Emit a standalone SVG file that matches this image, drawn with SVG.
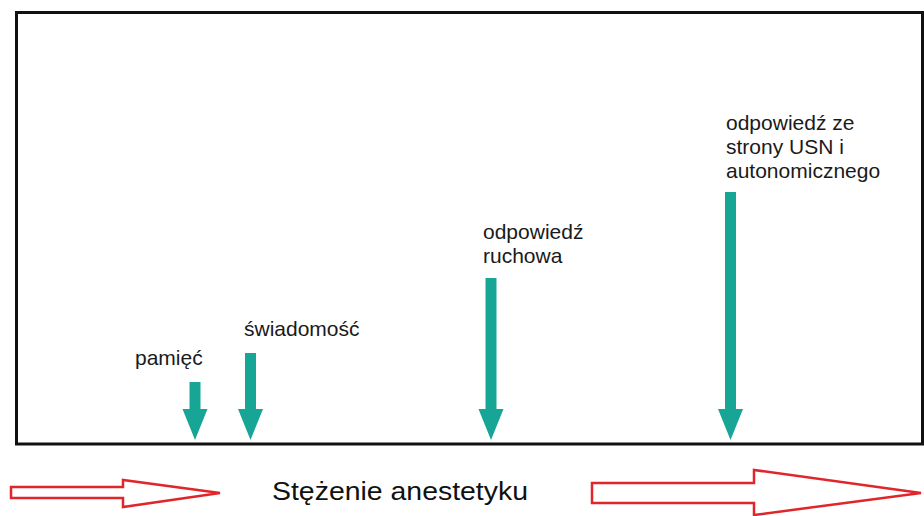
<svg xmlns="http://www.w3.org/2000/svg" width="924" height="516" viewBox="0 0 924 516">
<style>
.lbl{font-family:"Liberation Sans",Arial,sans-serif;font-size:21px;fill:#1a1a1a}
.title{font-family:"Liberation Sans",Arial,sans-serif;font-size:26px;fill:#111}
.teal{fill:#17a596}
.red{fill:#fff;stroke:#e0262b;stroke-width:2.5;stroke-linejoin:miter}
</style>
<rect x="0" y="0" width="924" height="516" fill="#fff"/>
<g id="frame"><rect x="16.5" y="12.5" width="906" height="431.5" fill="#fff" stroke="#111" stroke-width="3"/></g>
<g id="pamiec"><text class="lbl" x="135" y="365">pamięć</text></g>
<g id="swiadomosc"><text class="lbl" x="244" y="336">świadomość</text></g>
<g id="ruchowa"><text class="lbl" x="483" y="239">odpowiedź</text><text class="lbl" x="483" y="263">ruchowa</text></g>
<g id="usn"><text class="lbl" x="726" y="130">odpowiedź ze</text><text class="lbl" x="726" y="154">strony USN i</text><text class="lbl" x="726" y="178">autonomicznego</text></g>
<g id="connectors">
<polygon class="teal" points="189.5,382 200.5,382 200.5,409 207.5,409 195,440 182.5,409 189.5,409"/>
<polygon class="teal" points="245,353 256,353 256,409 263,409 250.5,440 238,409 245,409"/>
<polygon class="teal" points="485.5,278 496.5,278 496.5,409 503.5,409 491,440 478.5,409 485.5,409"/>
<polygon class="teal" points="725,192 736,192 736,409 743,409 730.5,440 718,409 725,409"/>
</g>
<g id="axis">
<polygon class="red" points="11,487 123,487 123,480 220,493 123,507 123,498 11,498"/>
<text class="title" x="272" y="500" textLength="256" lengthAdjust="spacingAndGlyphs">Stężenie anestetyku</text>
<polygon class="red" points="592,483 754,483 754,470 921,493 754,515 754,503 592,503"/>
</g>
</svg>
